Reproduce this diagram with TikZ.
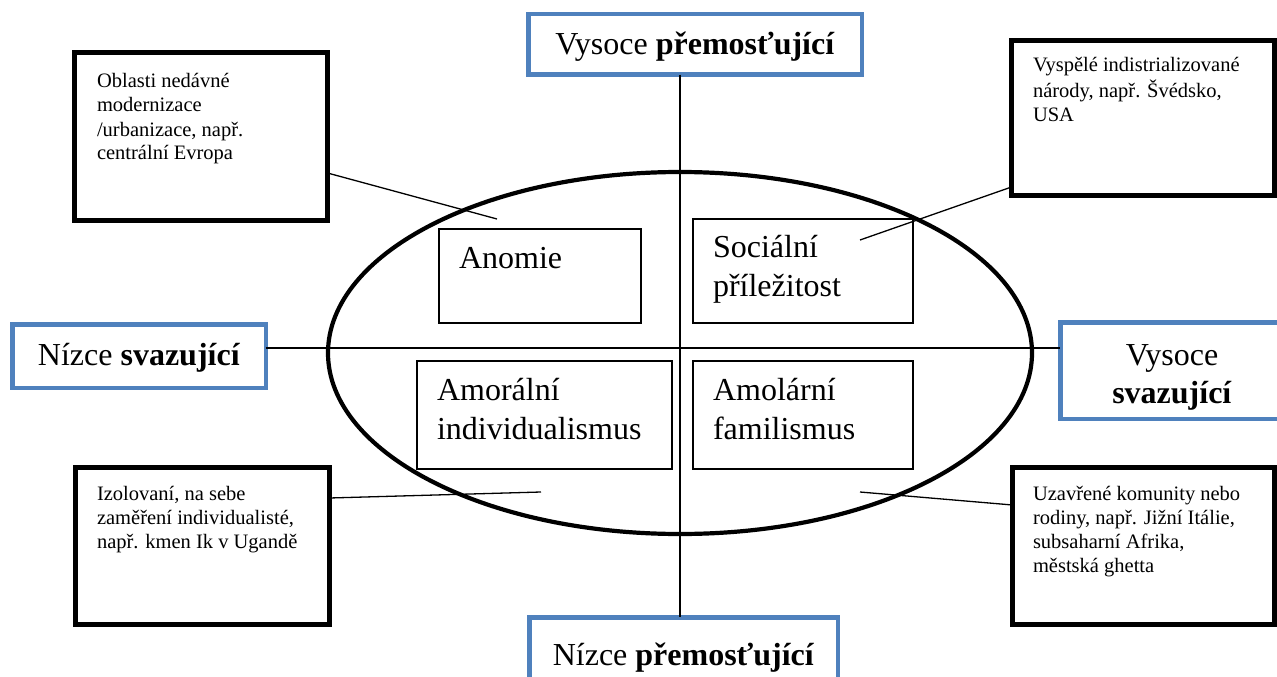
\documentclass[tikz,border=0pt]{standalone}
\usepackage{fontspec}
\setmainfont{Liberation Serif}
\definecolor{boxblue}{RGB}{79,129,189}
\newcommand{\mynotetext}[3]{\parbox[t][#2][t]{#1}{\raggedright\strut #3}}
\begin{document}
\begin{tikzpicture}[x=1pt,y=-1pt,
  bluebox/.style={draw=boxblue, line width=4.5pt, fill=white, inner sep=0pt, outer sep=0pt, font=\fontsize{32}{38.5}\selectfont, align=center},
  notebox/.style={draw=black, line width=5pt, fill=white, outer sep=0pt, anchor=north west, font=\fontsize{20.5}{24}\selectfont},
  quadbox/.style={draw=black, line width=1.2pt, outer sep=0pt, anchor=north west, inner xsep=20pt, font=\fontsize{32}{38.5}\selectfont},
  link/.style={draw=black, line width=1.3pt},
  axisline/.style={draw=black, line width=1.5pt}
]
\useasboundingbox (0,0) rectangle (1277,677);
\clip (0,0) rectangle (1277,677);

% ellipse
\draw[line width=4.2pt] (680,353) ellipse [x radius=352pt, y radius=181pt];

% quadrant boxes
\node[quadbox, inner ysep=13pt] (anomie) at (439,229) {\mynotetext{162pt}{68pt}{Anomie}};
\node[quadbox, inner ysep=12pt] (social) at (693,219) {\mynotetext{180pt}{80pt}{Sociální\\příležitost}};
\node[quadbox, inner ysep=13pt] (amoral) at (417,361) {\mynotetext{215pt}{82pt}{Amorální\\individualismus}};
\node[quadbox, inner ysep=13pt] (amolar) at (693,361) {\mynotetext{180pt}{82pt}{Amolární\\familismus}};

% note boxes
\node[notebox, inner xsep=22.5pt, inner ysep=18.7pt] (tl) at (74.5,52.5)
  {\mynotetext{208pt}{130.6pt}{Oblasti nedávné\\modernizace\\/urbanizace, např.\\centrální Evropa}};
\node[notebox, inner xsep=21.5pt, inner ysep=14.7pt] (tr) at (1011.5,40.5)
  {\mynotetext{220pt}{125.6pt}{Vyspělé indistrializované\\národy, např. Švédsko,\\USA}};
\node[notebox, inner xsep=21.5pt, inner ysep=15.7pt] (bl) at (75.5,467.5)
  {\mynotetext{211pt}{125.6pt}{Izolovaní, na sebe\\zaměření individualisté,\\např. kmen Ik v Ugandě}};
\node[notebox, inner xsep=20.5pt, inner ysep=15.7pt] (br) at (1012.5,467.5)
  {\mynotetext{221pt}{125.6pt}{Uzavřené komunity nebo\\rodiny, např. Jižní Itálie,\\subsaharní Afrika,\\městská ghetta}};

% connectors
\coordinate (tlend) at (497,219);
\coordinate (trend) at (860,240);
\coordinate (blend) at (541,492);
\coordinate (brend) at (860,492);
\draw[link] ([yshift=-36.5pt]tl.east) -- (tlend);
\draw[link] ([yshift=-69pt]tr.west) -- (trend);
\draw[link] ([yshift=48pt]bl.east) -- (blend);
\draw[link] ([yshift=41pt]br.west) -- (brend);

% blue axis labels
\node[bluebox, minimum width=333.5pt, minimum height=60.5pt, text height=24pt, text depth=3pt] (top) at (695,44.5) {Vysoce \textbf{přemosťující}};
\node[bluebox, minimum width=253.5pt, minimum height=63.5pt, text height=22pt, text depth=4pt] (left) at (139,356) {Nízce \textbf{svazující}};
\node[bluebox, minimum width=223.5pt, minimum height=96.5pt, text height=27pt, text depth=38pt] (right) at (1172,370.5) {\parbox[t]{200pt}{\centering\strut Vysoce\\\textbf{svazující}}};
\node[bluebox, minimum width=308.5pt, minimum height=70.5pt, text height=27pt, text depth=2pt] (bot) at (683.5,652.5) {Nízce \textbf{přemosťující}};

% axes
\coordinate (o) at (680,348);
\draw[axisline] (o |- top.south) -- (o |- bot.north);
\draw[axisline] (left.east |- o) -- (right.west |- o);
\end{tikzpicture}
\end{document}
